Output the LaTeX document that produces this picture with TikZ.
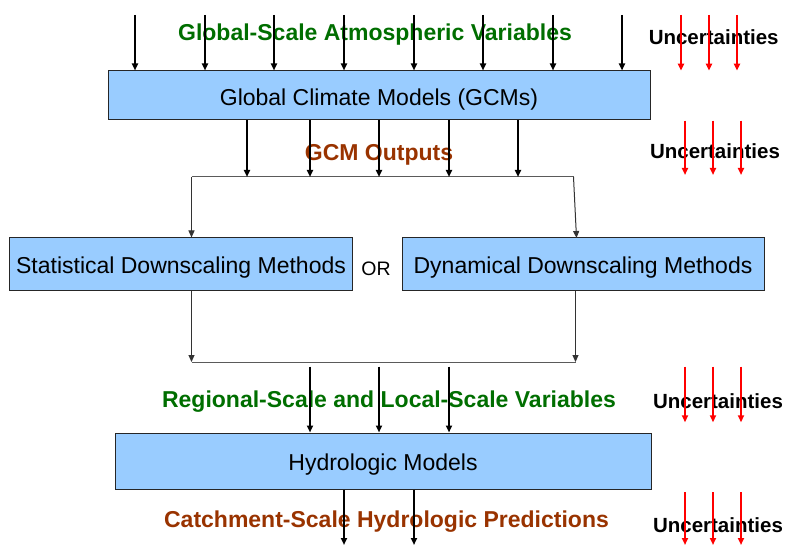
\documentclass[tikz,border=0pt]{standalone}
\usepackage{fontspec}
\setmainfont{Liberation Sans}
\usetikzlibrary{arrows.meta}
\definecolor{boxblue}{RGB}{153,204,255}
\definecolor{lblgreen}{RGB}{0,110,0}
\definecolor{lblbrown}{RGB}{153,51,0}
\definecolor{juncgray}{RGB}{90,90,90}
\tikzset{
  modelbox/.style={draw=black!85, line width=1pt, fill=boxblue, inner sep=0pt,
    font=\fontsize{23}{27}\selectfont, text height=19pt, text depth=1pt},
  flowarrow/.style={draw=black, line width=2pt, -{Triangle[width=6pt,length=7pt]}},
  thinarrow/.style={draw=black!80, line width=1pt, -{Triangle[width=6pt,length=7pt]}},
  juncline/.style={draw=juncgray, line width=1pt},
  redarrow/.style={draw=red, line width=2pt, -{Triangle[width=6pt,length=7pt]}},
  greenlbl/.style={text=lblgreen, font=\fontsize{23}{27}\selectfont\bfseries, anchor=base, inner sep=0pt},
  brownlbl/.style={text=lblbrown, font=\fontsize{23}{27}\selectfont\bfseries, anchor=base, inner sep=0pt},
  uncert/.style={text=black, font=\fontsize{20.5}{24}\selectfont\bfseries, anchor=base, inner sep=0pt},
}
\begin{document}
\begin{tikzpicture}[x=1pt,y=-1pt]
\useasboundingbox (0,0) rectangle (787,545);

% boxes
\node[modelbox, minimum width=542pt, minimum height=49pt, text height=20.5pt, text depth=0pt] (gcm) at (379,95.5) {Global Climate Models (GCMs)};
\node[modelbox, minimum width=343pt, minimum height=53pt] (stat) at (181,264.5) {Statistical Downscaling Methods};
\node[modelbox, minimum width=362pt, minimum height=53pt] (dyn) at (583,264.5) {Dynamical Downscaling Methods};
\node[modelbox, minimum width=536pt, minimum height=56pt] (hydro) at (383,461) {Hydrologic Models};
\node[font=\fontsize{19.5}{23}\selectfont, anchor=base, inner sep=0pt] (or) at (376,275.5) {OR};

% labels (drawn before arrows so arrows overlay text)
\node[greenlbl] (l1) at (375,40.5) {Global-Scale Atmospheric Variables};
\node[brownlbl] (l2) at (379,161) {GCM Outputs};
\node[greenlbl] (l3) at (389,407.5) {Regional-Scale and Local-Scale Variables};
\node[brownlbl] (l4) at (386.5,527) {Catchment-Scale Hydrologic Predictions};

\node[uncert] (u1) at (713.7,44.5) {Uncertainties};
\node[uncert] (u2) at (715,158.5) {Uncertainties};
\node[uncert] (u3) at (718,408.5) {Uncertainties};
\node[uncert] (u4) at (718,532.5) {Uncertainties};

% inputs to GCMs
\foreach \x [count=\i] in {135,205,274,344,414,483,553,622} {
  \coordinate (ta\i) at (\x,15);
  \draw[flowarrow] (ta\i) -- (ta\i |- gcm.north);
}

% junction of GCM outputs
\coordinate (jl) at (191.5,177);
\coordinate (jr) at (573.5,177);
\coordinate (dtop) at (576.5,238);
\draw[juncline] (jl) -- (jr);
\foreach \x [count=\i] in {247,310,379,449,518} {
  \coordinate (ga\i) at (\x,177);
  \draw[flowarrow] (ga\i |- gcm.south) -- (ga\i);
}
\draw[thinarrow] (jl) -- (jl |- stat.north);
\draw[thinarrow] (jr) -- (dtop);

% junction below downscaling
\coordinate (bl) at (191.5,362);
\coordinate (br) at (575.5,362);
\draw[thinarrow] (bl |- stat.south) -- (bl);
\draw[thinarrow] (br |- dyn.south) -- (br);
\draw[juncline] (bl) -- (br);

% regional variables into hydrologic models
\foreach \x [count=\i] in {310,379,449} {
  \coordinate (ra\i) at (\x,366.7);
  \draw[flowarrow] (ra\i) -- (ra\i |- hydro.north);
}

% hydrologic predictions
\foreach \x [count=\i] in {344,414} {
  \coordinate (ha\i) at (\x,545);
  \draw[flowarrow] (ha\i |- hydro.south) -- (ha\i);
}

% uncertainty arrows
\foreach \x [count=\i] in {681,709,737} {
  \coordinate (ua\i) at (\x,15);
  \coordinate (ub\i) at (\x,70.7);
  \draw[redarrow] (ua\i) -- (ub\i);
}
\foreach \x [count=\i] in {685,713,741} {
  \coordinate (uc\i) at (\x,120.7);
  \coordinate (ud\i) at (\x,175);
  \draw[redarrow] (uc\i) -- (ud\i);
  \coordinate (ue\i) at (\x,366.7);
  \coordinate (uf\i) at (\x,422.3);
  \draw[redarrow] (ue\i) -- (uf\i);
  \coordinate (ug\i) at (\x,492.3);
  \coordinate (uh\i) at (\x,545);
  \draw[redarrow] (ug\i) -- (uh\i);
}
\end{tikzpicture}
\end{document}
